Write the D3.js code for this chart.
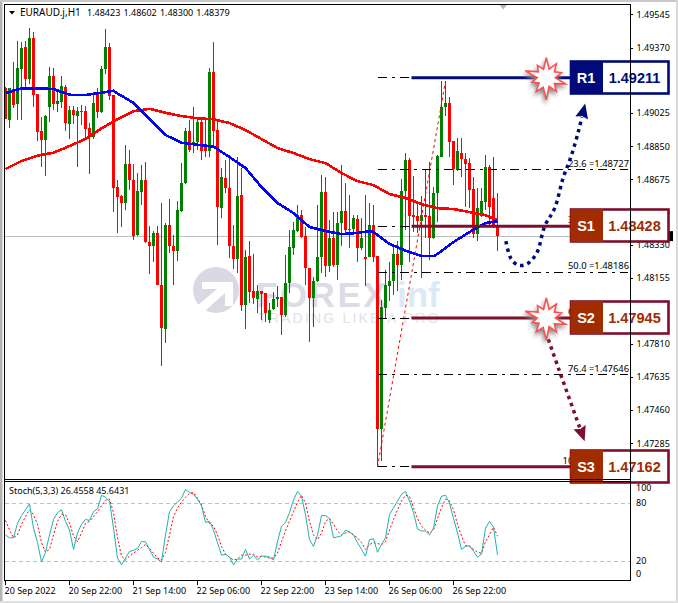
<!DOCTYPE html>
<html>
<head>
<meta charset="utf-8">
<script src="https://cdn.jsdelivr.net/npm/d3@7"></script>
<style>
  html, body { margin: 0; padding: 0; background: #fff; overflow: hidden; }
  text { font-family: "Noto Sans", sans-serif; font-size: 9px; fill: #000; }
</style>
</head>
<body>
<div id="chart"></div>
<script>
// EURAUD.j H1 candles, one entry per bar
const opens = [1.49156,1.48988,1.49151,1.49072,1.49257,1.49372,1.49204,1.49420,1.49125,1.48930,1.48882,1.49056,1.49220,1.49072,1.49083,1.49162,1.48967,1.49041,1.49009,1.49035,1.49035,1.48946,1.48898,1.49130,1.49030,1.49257,1.49372,1.49120,1.48635,1.48587,1.48551,1.48756,1.48672,1.48382,1.48609,1.48672,1.48345,1.48324,1.48393,1.48119,1.47887,1.48435,1.48324,1.48298,1.48508,1.48656,1.48930,1.48861,1.48872,1.48977,1.48851,1.48825,1.49241,1.48935,1.48524,1.48682,1.48630,1.48324,1.48256,1.48593,1.48013,1.48271,1.48087,1.48045,1.48087,1.48076,1.47934,1.47992,1.48045,1.48055,1.47961,1.48129,1.48314,1.48403,1.48487,1.48377,1.48208,1.48050,1.48140,1.48266,1.48609,1.48219,1.48366,1.48224,1.48445,1.48508,1.48412,1.48414,1.48466,1.48314,1.48266,1.48266,1.48435,1.48271,1.47360,1.47997,1.48113,1.48140,1.48282,1.48224,1.48614,1.48777,1.48487,1.48482,1.48456,1.48487,1.48482,1.48366,1.48603,1.48793,1.49056,1.49077,1.48877,1.48724,1.48814,1.48782,1.48761,1.48624,1.48387,1.48482,1.48556,1.48740,1.48577,1.48423];
const highs = [1.49162,1.49156,1.49293,1.49404,1.49399,1.49404,1.49472,1.49451,1.49125,1.49004,1.49014,1.49267,1.49262,1.49135,1.49220,1.49172,1.49062,1.49062,1.49056,1.49067,1.49062,1.48972,1.49135,1.49156,1.49272,1.49467,1.49393,1.49120,1.48672,1.48593,1.48856,1.48830,1.48756,1.48709,1.48751,1.48767,1.48429,1.48403,1.48429,1.48551,1.48445,1.48572,1.48382,1.48561,1.48761,1.48946,1.48988,1.49056,1.49004,1.49004,1.49004,1.49262,1.49399,1.48983,1.48735,1.48777,1.48803,1.48435,1.48793,1.48735,1.48303,1.48350,1.48282,1.48119,1.48087,1.48076,1.48024,1.48082,1.48113,1.48055,1.48277,1.48408,1.48451,1.48540,1.48514,1.48424,1.48208,1.48161,1.48540,1.48698,1.48688,1.48461,1.48503,1.48503,1.48751,1.48656,1.48593,1.48487,1.48487,1.48472,1.48593,1.48551,1.48540,1.48271,1.48040,1.48198,1.48240,1.48329,1.48350,1.48677,1.48814,1.48788,1.48693,1.48551,1.48587,1.48730,1.48767,1.48635,1.48803,1.49193,1.49193,1.49109,1.48877,1.48893,1.48893,1.48814,1.48788,1.48688,1.48630,1.48630,1.48803,1.48751,1.48793,1.48602];
const lows = [1.48993,1.48946,1.49051,1.48988,1.48988,1.49156,1.49177,1.49056,1.48877,1.48740,1.48693,1.48977,1.49041,1.49030,1.49051,1.48930,1.48888,1.48967,1.48740,1.48961,1.48898,1.48703,1.48888,1.48998,1.49025,1.49230,1.49093,1.48503,1.48393,1.48424,1.48514,1.48619,1.48356,1.48377,1.48540,1.48340,1.48177,1.48240,1.48119,1.47692,1.47813,1.48287,1.48119,1.48245,1.48503,1.48651,1.48819,1.48814,1.48830,1.48777,1.48793,1.48793,1.48840,1.48329,1.48472,1.48603,1.48261,1.48203,1.48182,1.47982,1.47887,1.48024,1.48019,1.47971,1.47934,1.47924,1.47918,1.47987,1.48003,1.47855,1.47950,1.48076,1.48277,1.48398,1.48366,1.48119,1.47818,1.47897,1.48134,1.48182,1.48161,1.48187,1.48213,1.48145,1.48324,1.48393,1.48314,1.48393,1.48240,1.48303,1.48113,1.48266,1.48240,1.47160,1.47191,1.47945,1.48034,1.48066,1.48087,1.48145,1.48408,1.48240,1.48398,1.48393,1.48155,1.48366,1.48250,1.48361,1.48451,1.48793,1.49009,1.48793,1.48645,1.48719,1.48688,1.48530,1.48524,1.48366,1.48350,1.48477,1.48514,1.48435,1.48419,1.48300];
const closes = [1.48993,1.49156,1.49067,1.49262,1.49367,1.49204,1.49420,1.49120,1.48925,1.48882,1.49009,1.49220,1.49072,1.49088,1.49167,1.48972,1.49041,1.49014,1.49035,1.49030,1.48940,1.48898,1.49077,1.49030,1.49257,1.49372,1.49114,1.48630,1.48582,1.48551,1.48756,1.48672,1.48377,1.48614,1.48672,1.48345,1.48324,1.48393,1.48119,1.47892,1.48435,1.48324,1.48298,1.48514,1.48656,1.48930,1.48830,1.48872,1.48977,1.48825,1.48825,1.49241,1.48930,1.48530,1.48688,1.48630,1.48324,1.48256,1.48587,1.48013,1.48266,1.48082,1.48050,1.48087,1.48071,1.47971,1.47987,1.48045,1.48055,1.47961,1.48129,1.48319,1.48408,1.48487,1.48371,1.48208,1.48050,1.48140,1.48266,1.48609,1.48219,1.48366,1.48224,1.48445,1.48508,1.48408,1.48416,1.48472,1.48314,1.48366,1.48256,1.48435,1.48266,1.47360,1.48003,1.48119,1.48140,1.48282,1.48224,1.48614,1.48777,1.48482,1.48477,1.48456,1.48487,1.48477,1.48366,1.48603,1.48798,1.49056,1.49077,1.48872,1.48730,1.48825,1.48782,1.48756,1.48619,1.48387,1.48524,1.48561,1.48740,1.48530,1.48435,1.48379];

// moving averages, read at the bars listed in the index arrays
const blueMaBars = [0,4,8,12,16,20,24,27,28,32,36,40,44,48,52,56,60,64,68,72,76,80,84,88,91,92,96,100,104,107,108,112,116,120,123];
const blueMa = [1.49130,1.49155,1.49155,1.49151,1.49121,1.49120,1.49132,1.49142,1.49128,1.49079,1.48993,1.48909,1.48868,1.48858,1.48848,1.48793,1.48735,1.48635,1.48551,1.48498,1.48424,1.48403,1.48387,1.48393,1.48403,1.48398,1.48335,1.48300,1.48271,1.48271,1.48282,1.48345,1.48398,1.48445,1.48456];
const redMaBars = [0,4,8,12,16,20,24,28,32,36,40,44,48,52,56,60,64,68,72,76,80,84,88,92,96,100,104,108,112,116,120,123];
const redMa = [1.48730,1.48772,1.48800,1.48816,1.48851,1.48888,1.48944,1.48992,1.49035,1.49047,1.49026,1.49009,1.48997,1.48992,1.48972,1.48935,1.48888,1.48840,1.48814,1.48782,1.48761,1.48709,1.48666,1.48645,1.48598,1.48577,1.48545,1.48524,1.48519,1.48503,1.48487,1.48461];

// stochastic 5,3,3
const stochMain = [47,44,44,59,67,73,79,54,39,19,29,47,63,70,73,61,52,32,49,58,63,62,71,74,88,86,82,54,23,16,23,30,31,33,40,40,32,24,22,19,47,71,77,81,85,94,91,89,84,77,60,61,52,39,26,27,24,16,22,22,32,22,26,21,25,25,24,21,40,56,60,70,83,92,87,68,42,35,47,67,67,64,44,45,46,52,50,47,39,32,25,42,43,29,37,44,68,75,82,89,92,82,70,53,51,51,47,54,77,87,88,80,64,49,32,35,36,30,24,27,54,61,55,26.4558];
const stochSignal = [62,52,44,47,58,66,73,68,58,39,29,32,47,61,68,68,59,46,40,49,59,61,66,71,77,83,84,70,44,25,21,25,28,31,34,37,33,28,23,21,29,47,66,75,81,86,90,91,85,78,66,59,56,47,35,27,24,21,22,26,26,27,27,24,25,24,23,23,28,40,51,61,71,81,88,80,61,47,42,49,61,64,58,51,47,49,50,47,44,39,32,37,39,38,37,40,52,63,73,82,88,87,75,64,56,52,49,52,64,75,84,82,73,58,46,36,35,32,29,28,40,47,55,45.6431];

// axes
const priceTicks = [1.49545,1.49370,1.49195,1.49025,1.48850,1.48675,1.48500,1.48330,1.48155,1.47985,1.47810,1.47635,1.47460,1.47285];
const stochTicks = [100,80,20,0];
const timeBars = [0,16,32,48,64,80,96,112];
const timeLabels = ["20 Sep 2022","20 Sep 22:00","21 Sep 14:00","22 Sep 06:00","22 Sep 22:00","23 Sep 14:00","26 Sep 06:00","26 Sep 22:00"];

// support / resistance boxes and fibo levels
const levelNames = ["R1","S1","S2","S3"];
const levelPrices = [1.49211,1.48428,1.47945,1.47162];
const fiboRatios = ["0.0","23.6","38.2","50.0","61.8","76.4","100.0"];
const fiboPrices = [1.49211,1.48727,1.48428,1.48186,1.47945,1.47646,1.47162];

// hand drawn arrows, in bar index / price
const upArrowBars = [125.1,126.3,128.1,130.3,132.8,134.8,137.3,139.4,141.5,143.2,144.1];
const upArrowPrices = [1.48350,1.48261,1.48224,1.48229,1.48287,1.48429,1.48524,1.48682,1.48803,1.48926,1.49004];
const downArrowBars = [135.7,138.4,143.6];
const downArrowPrices = [1.47833,1.47671,1.47365];
const starRadii = [20,9,17,10,16,9,20,10,17,9,22,10,17,9,15,9,22,10,15,9];

const width = 678, height = 603;
const axisX = 630, panelLeft = 4.5, mainTop = 4.5, mainBottom = 479.5, stochTop = 481.5, stochBottom = 580.5;
const navy = "#000a78", maroon = "#7d0f2d", brick = "#a02c00";

const x = d3.scaleLinear().domain([0, 156]).range([5.5, 629.5]);
const y = d3.scaleLinear().domain([1.47285, 1.49545]).range([443.3, 14.3]);
const yStoch = d3.scaleLinear().domain([0, 100]).range([580.3, 483.7]);

const svg = d3.select("#chart").append("svg")
  .attr("width", width)
  .attr("height", height)
  .style("display", "block");

// window frame
svg.append("rect").attr("width", width).attr("height", height).attr("fill", "#fff");
svg.append("rect").attr("width", 2.5).attr("height", height).attr("fill", "#b4b4b4");
svg.append("rect").attr("width", width).attr("height", 2).attr("fill", "#c8c8c8");
svg.append("rect").attr("x", 676).attr("width", 2).attr("height", height).attr("fill", "#d8d8d8");
svg.append("rect").attr("y", 601).attr("width", width).attr("height", 2).attr("fill", "#e0e0e0");

// watermark sits behind everything
const mark = svg.append("g");
mark.append("circle").attr("cx", 216).attr("cy", 290).attr("r", 23).attr("fill", "#d9d9e4");
mark.append("path")
  .attr("d", "M202 282 L233 282 L233 306 L225 306 L225 293 L205 311 L198 305 L217 289 L202 289 Z")
  .attr("fill", "#fff");
mark.append("text").attr("x", 256).attr("y", 307)
  .style("font-family", "Liberation Sans").style("font-size", "35px").style("font-weight", "bold")
  .style("letter-spacing", "2.5px").style("fill", "#dcdce6").text("FOREX");
mark.append("text").attr("x", 397).attr("y", 307)
  .style("font-family", "Liberation Sans").style("font-size", "35px").style("font-weight", "bold")
  .style("fill", "#dde9f5").text("inf");
mark.append("text").attr("x", 258).attr("y", 323)
  .style("font-family", "Liberation Sans").style("font-size", "14px")
  .style("letter-spacing", "2.2px").style("fill", "#e2e2e8").text("TRADING LIKE A PRO");

// last price line
const lastClose = closes[closes.length - 1];
svg.append("line")
  .attr("x1", panelLeft).attr("x2", axisX)
  .attr("y1", Math.round(y(lastClose)) + 0.5).attr("y2", Math.round(y(lastClose)) + 0.5)
  .attr("stroke", "#c0c0c0");

// candles
const candles = d3.range(opens.length);
const candleColor = i => closes[i] >= opens[i] ? "#008000" : "#ff0000";
const candleG = svg.append("g").attr("shape-rendering", "crispEdges");
candleG.selectAll("line").data(candles).join("line")
  .attr("x1", i => x(i)).attr("x2", i => x(i))
  .attr("y1", i => y(highs[i])).attr("y2", i => y(lows[i]))
  .attr("stroke", candleColor);
candleG.selectAll("rect").data(candles).join("rect")
  .attr("x", i => x(i) - 1.5)
  .attr("width", 3)
  .attr("y", i => y(Math.max(opens[i], closes[i])))
  .attr("height", i => Math.max(1, Math.abs(y(opens[i]) - y(closes[i]))))
  .attr("fill", candleColor);

// moving averages
const maLine = (bars, vals, color) => svg.append("path")
  .attr("d", d3.line().x((d, i) => x(bars[i])).y(d => y(d))(vals))
  .attr("fill", "none").attr("stroke", color).attr("stroke-width", 2.6)
  .attr("shape-rendering", "crispEdges");
maLine(redMaBars, redMa, "#ff0000");
maLine(blueMaBars, blueMa, "#0000ff");

// fibo swing line, low of bar 93 to high of bar 110
svg.append("line")
  .attr("x1", x(93)).attr("y1", y(lows[93]))
  .attr("x2", x(110)).attr("y2", y(highs[110]))
  .attr("stroke", "#ff0000").attr("stroke-dasharray", "3 3");

// fibo levels and their captions
svg.append("g").attr("shape-rendering", "crispEdges")
  .selectAll("line").data(fiboPrices).join("line")
  .attr("x1", x(93)).attr("x2", 628)
  .attr("y1", d => y(d)).attr("y2", d => y(d))
  .attr("stroke", "#000").attr("stroke-dasharray", "9 5 3 5");
svg.append("g").selectAll("text").data(fiboPrices).join("text")
  .filter((d, i) => i > 0)
  .attr("x", 629).attr("y", d => y(d) - 3)
  .attr("text-anchor", "end")
  .style("font-size", "9.4px")
  .text((d, i) => `${fiboRatios[i + 1]} =${d.toFixed(5)}`);

// support / resistance lines
svg.append("g").selectAll("line").data(levelPrices).join("line")
  .attr("x1", x(101.5)).attr("x2", 572)
  .attr("y1", d => y(d)).attr("y2", d => y(d))
  .attr("stroke", (d, i) => i === 0 ? navy : maroon)
  .attr("stroke-width", 3);

// dotted forecast arrows
const arrowLine = d3.line().curve(d3.curveCatmullRom);
const drawArrow = (bars, prices, color) => {
  const pts = bars.map((b, i) => [x(b), y(prices[i])]);
  svg.append("path")
    .attr("d", arrowLine(pts))
    .attr("fill", "none").attr("stroke", color)
    .attr("stroke-width", 3.5).attr("stroke-dasharray", "3.5 4");
  // head points along the last segment
  const a = pts[pts.length - 2], b = pts[pts.length - 1];
  const ang = Math.atan2(b[1] - a[1], b[0] - a[0]) * 180 / Math.PI;
  svg.append("path")
    .attr("d", "M14 0 L-1 -6.5 L1 0 L-1 6.5 Z")
    .attr("transform", `translate(${b[0]},${b[1]}) rotate(${ang})`)
    .attr("fill", color);
};
drawArrow(upArrowBars, upArrowPrices, navy);
drawArrow(downArrowBars, downArrowPrices, maroon);

// bursts on R1 and S2
const star = d3.lineRadial()
  .angle((d, i) => i / starRadii.length * 2 * Math.PI)
  .radius(d => d)
  .curve(d3.curveLinearClosed);
[levelPrices[0], levelPrices[2]].forEach(p => {
  svg.append("path")
    .attr("d", star(starRadii))
    .attr("transform", `translate(${x(135.2)},${y(p)})`)
    .attr("fill", "#fff").attr("stroke", "#ff5050").attr("stroke-width", 1.6)
    .style("filter", "drop-shadow(-1px 3px 2px #888)");
});

// price axis
svg.append("g").attr("shape-rendering", "crispEdges")
  .selectAll("line").data(priceTicks).join("line")
  .attr("x1", axisX).attr("x2", axisX + 3)
  .attr("y1", d => Math.round(y(d)) + 0.5).attr("y2", d => Math.round(y(d)) + 0.5)
  .attr("stroke", "#000");
svg.append("g").selectAll("text").data(priceTicks).join("text")
  .attr("x", 636.5).attr("y", d => y(d) + 3.3)
  .text(d => d.toFixed(5));

// current price tag, mostly under the S1 box
svg.append("rect")
  .attr("x", axisX).attr("y", y(lastClose) - 4.5)
  .attr("width", 43).attr("height", 10).attr("fill", "#000");

// level boxes
const boxes = svg.append("g").selectAll("g").data(levelPrices).join("g")
  .attr("transform", d => `translate(570.5,${Math.round(y(d)) - 17})`);
boxes.append("rect")
  .attr("x", 0.5).attr("y", 0.5).attr("width", 97.5).attr("height", 32)
  .attr("fill", "#fff")
  .attr("stroke", (d, i) => i === 0 ? navy : maroon).attr("stroke-width", 2.6);
boxes.append("rect")
  .attr("width", 32.5).attr("height", 33)
  .attr("fill", (d, i) => i === 0 ? navy : brick);
boxes.append("text")
  .attr("x", 15.5).attr("y", 21.5).attr("text-anchor", "middle")
  .style("font-family", "Liberation Sans").style("font-size", "14.5px").style("font-weight", "bold")
  .style("fill", "#fff")
  .text((d, i) => levelNames[i]);
boxes.append("text")
  .attr("x", 64).attr("y", 21.5).attr("text-anchor", "middle")
  .style("font-family", "Liberation Sans").style("font-size", "14.5px").style("font-weight", "bold")
  .style("fill", (d, i) => i === 0 ? navy : brick)
  .text(d => d.toFixed(5));

// chart title
svg.append("path").attr("d", "M9 11 L15 11 L12 14.5 Z").attr("fill", "#000");
svg.append("text").attr("x", 20).attr("y", 16).style("font-size", "10px").text("EURAUD.j,H1");
svg.append("text").attr("x", 87).attr("y", 16).style("word-spacing", "0.8px")
  .text([opens[123], highs[123], lows[123], closes[123]].map(d => d.toFixed(5)).join(" "));

// little grey arrow at the top of the chart
svg.append("path").attr("d", "M499.5 5 L507 5 L503.2 9.5 Z").attr("fill", "#b8b8b8");

// stochastic panel
svg.append("g").attr("shape-rendering", "crispEdges")
  .selectAll("line").data([80, 20]).join("line")
  .attr("x1", panelLeft).attr("x2", axisX)
  .attr("y1", d => Math.round(yStoch(d)) + 0.5).attr("y2", d => Math.round(yStoch(d)) + 0.5)
  .attr("stroke", "#c0c0c0").attr("stroke-dasharray", "4 3");
svg.append("path")
  .attr("d", d3.line().x((d, i) => x(i)).y(d => yStoch(d))(stochSignal))
  .attr("fill", "none").attr("stroke", "#ff0000").attr("stroke-dasharray", "2 2");
svg.append("path")
  .attr("d", d3.line().x((d, i) => x(i)).y(d => yStoch(d))(stochMain))
  .attr("fill", "none").attr("stroke", "#20b2aa");
svg.append("text").attr("x", 9).attr("y", 494)
  .text(`Stoch(5,3,3) ${stochMain[123].toFixed(4)} ${stochSignal[123].toFixed(4)}`);

// panel borders
const borders = svg.append("g").attr("shape-rendering", "crispEdges").attr("stroke", "#000").attr("fill", "none");
borders.append("path").attr("d",
  `M${panelLeft} ${stochBottom} V${mainTop} H${axisX} V${stochBottom} H${panelLeft}` +
  `M${panelLeft} ${mainBottom} H${axisX} M${panelLeft} ${stochTop} H${axisX}`);
borders.append("path").attr("d", timeBars.map(b => `M${x(b)} ${stochBottom} v4`).join(""));

// stochastic scale, 100 and 0 are pushed inside the panel
svg.append("g").selectAll("text").data(stochTicks).join("text")
  .attr("x", 636)
  .attr("y", d => yStoch(d) + 3.3 + (d === 100 ? 3.5 : d === 0 ? -6.5 : 0))
  .text(d => d);

// time axis
svg.append("g").selectAll("text").data(timeBars).join("text")
  .attr("x", d => x(d) - 1).attr("y", 593.5)
  .text((d, i) => timeLabels[i]);
</script>
</body>
</html>
